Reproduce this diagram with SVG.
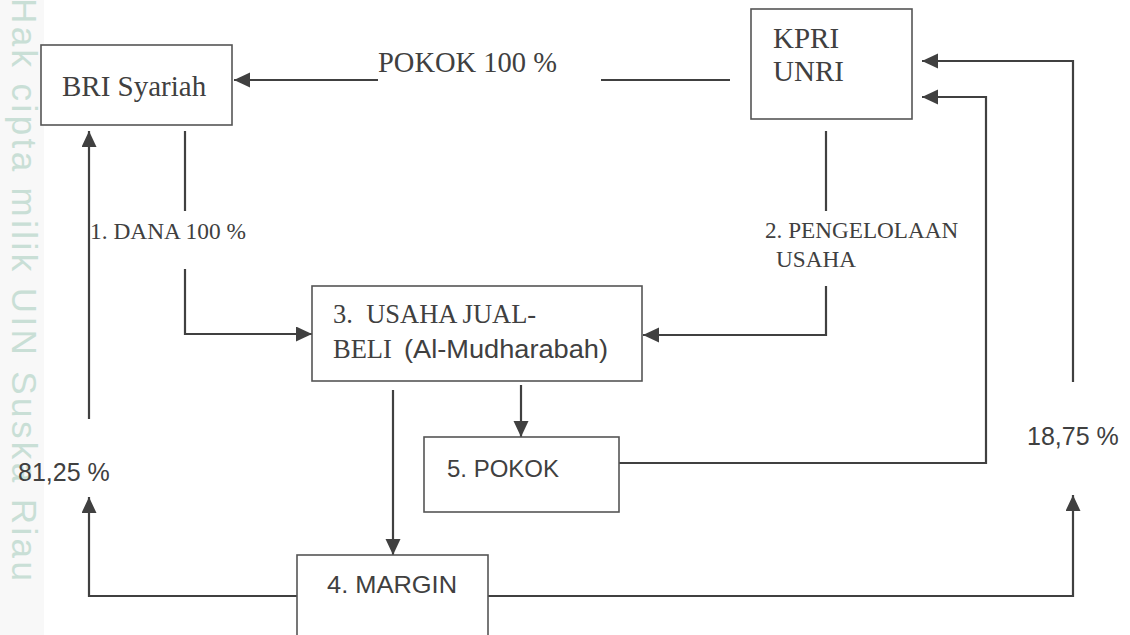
<svg xmlns="http://www.w3.org/2000/svg" width="1130" height="635" viewBox="0 0 1130 635">
<style>
.box{fill:#fff;stroke:#555;stroke-width:1.6}
.ln{fill:none;stroke:#404040;stroke-width:2.2}
.ser{font-family:"Liberation Serif","Times New Roman",serif;fill:#404040}
.san{font-family:"Liberation Sans",Arial,sans-serif;fill:#404040}
.wm{font-family:"Liberation Sans",Arial,sans-serif;fill:#c9dfd6;font-size:35px;letter-spacing:3.4px}
</style>
<defs>
<marker id="ah" markerUnits="userSpaceOnUse" markerWidth="17" markerHeight="16" refX="16" refY="7.5" orient="auto">
<path d="M0,0 L16,7.5 L0,15 z" fill="#404040"/>
</marker>
</defs>
<rect width="1130" height="635" fill="#fff"/>
<g id="watermark">
<rect x="0" y="0" width="44" height="635" fill="#f8f8f8"/>
<text class="wm" transform="translate(12,-2) rotate(90)" x="0" y="0">Hak cipta milik UIN Suska Riau</text>
</g>
<g id="connectors">
<line class="ln" x1="378" y1="80" x2="234" y2="80" marker-end="url(#ah)"/>
<line class="ln" x1="601" y1="80" x2="730" y2="80"/>
<line class="ln" x1="185" y1="131" x2="185" y2="211"/>
<polyline class="ln" points="185,269 185,334 312,334" marker-end="url(#ah)"/>
<line class="ln" x1="826" y1="131" x2="826" y2="211"/>
<polyline class="ln" points="826,286 826,335 643,335" marker-end="url(#ah)"/>
<line class="ln" x1="393" y1="390" x2="393" y2="555" marker-end="url(#ah)"/>
<line class="ln" x1="521" y1="385" x2="521" y2="437" marker-end="url(#ah)"/>
<polyline class="ln" points="619,463 986,463 986,97 922,97" marker-end="url(#ah)"/>
<polyline class="ln" points="297,596 89,596 89,497" marker-end="url(#ah)"/>
<line class="ln" x1="89" y1="419" x2="89" y2="131" marker-end="url(#ah)"/>
<polyline class="ln" points="488,596 1073,596 1073,495" marker-end="url(#ah)"/>
<polyline class="ln" points="1073,382 1073,61 922,61" marker-end="url(#ah)"/>
</g>
<g id="bri">
<rect class="box" x="41" y="45" width="191" height="80"/>
<text class="ser" x="62" y="96" font-size="29">BRI Syariah</text>
</g>
<g id="kpri">
<rect class="box" x="751" y="9" width="161" height="110"/>
<text class="ser" x="773" y="48" font-size="29">KPRI</text>
<text class="ser" x="773" y="81" font-size="29">UNRI</text>
</g>
<g id="usaha">
<rect class="box" x="312" y="286" width="330" height="95"/>
<text class="ser" x="333" y="323" font-size="26.5" style="white-space:pre">3.  USAHA JUAL-</text>
<text class="ser" x="333" y="358" font-size="26.5">BELI</text>
<text class="san" x="404" y="358" font-size="25" textLength="204" lengthAdjust="spacingAndGlyphs">(Al-Mudharabah)</text>
</g>
<g id="pokok">
<rect class="box" x="424" y="437" width="195" height="75"/>
<text class="san" x="447" y="477" font-size="24">5. POKOK</text>
</g>
<g id="margin">
<rect class="box" x="297" y="555" width="191" height="95"/>
<text class="san" x="327" y="593" font-size="24" textLength="130" lengthAdjust="spacingAndGlyphs">4. MARGIN</text>
</g>
<g id="labels">
<text class="ser" x="378" y="72" font-size="28.5">POKOK 100 %</text>
<text class="ser" x="90" y="239" font-size="23.4">1. DANA 100 %</text>
<text class="ser" x="765" y="238" font-size="23.2">2. PENGELOLAAN</text>
<text class="ser" x="776" y="267" font-size="23.2">USAHA</text>
<text class="san" x="18" y="481" font-size="25" fill="#333">81,25 %</text>
<text class="san" x="1027" y="445" font-size="25">18,75 %</text>
</g>
</svg>
